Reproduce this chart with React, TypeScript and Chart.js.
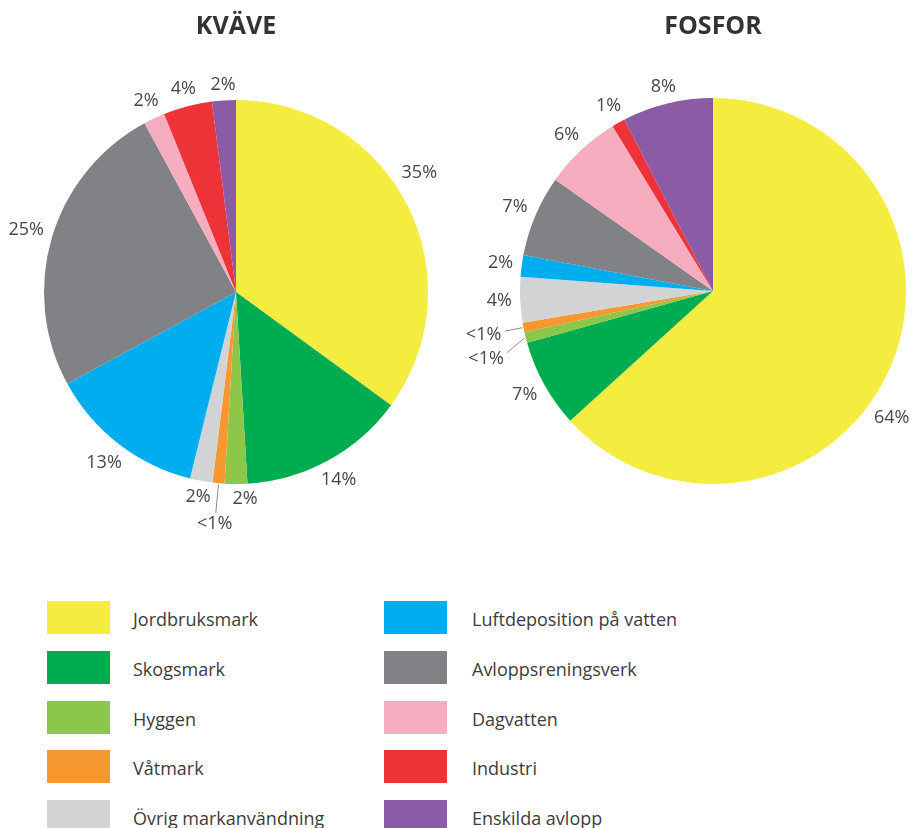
import React, { useEffect, useRef } from 'react';
import { Chart, registerables } from 'chart.js';

Chart.register(...registerables);

const categories = [
  'Jordbruksmark',
  'Skogsmark',
  'Hyggen',
  'Våtmark',
  'Övrig markanvändning',
  'Luftdeposition på vatten',
  'Avloppsreningsverk',
  'Dagvatten',
  'Industri',
  'Enskilda avlopp',
];

const colors = [
  '#F4EC3F',
  '#00AC50',
  '#8DC74A',
  '#F7972F',
  '#D1D3D4',
  '#00AEEF',
  '#808285',
  '#F5ADBF',
  '#EE3338',
  '#8C5BA5',
];

const kvaveValues = [35, 14, 1.9, 1.0, 1.9, 13.2, 25, 1.8, 4.1, 2.0];
const kvaveLabels = ['35%', '14%', '2%', '<1%', '2%', '13%', '25%', '2%', '4%', '2%'];

const fosforValues = [63.2, 7.4, 0.9, 0.8, 3.8, 1.8, 6.8, 6.5, 1.1, 7.6];
const fosforLabels = ['64%', '7%', '<1%', '<1%', '4%', '2%', '7%', '6%', '1%', '8%'];

const sliceLabelPlugin = {
  id: 'sliceLabels',
  afterDatasetsDraw(chart: any, _args: any, opts: any) {
    const ctx = chart.ctx;
    const meta = chart.getDatasetMeta(0);
    const labels: string[] = opts.labels || [];
    const tweaks = opts.tweaks || {};
    const gap = opts.gap ?? 9;
    const leaderGap = opts.leaderGap ?? 3;
    const h = opts.textHeight ?? 12;
    ctx.save();
    ctx.font = opts.font;
    ctx.textAlign = 'center';
    ctx.textBaseline = 'middle';
    meta.data.forEach((arc: any, i: number) => {
      const p = arc.getProps(['x', 'y', 'startAngle', 'endAngle', 'outerRadius'], true);
      const mid = (p.startAngle + p.endAngle) / 2;
      const t = tweaks[i] || {};
      const a = mid + ((t.shift || 0) * Math.PI) / 180;
      const text = labels[i];
      if (!text) return;
      const w = ctx.measureText(text).width;
      const ext = (Math.abs(Math.cos(a)) * w) / 2 + (Math.abs(Math.sin(a)) * h) / 2;
      let base = p.outerRadius;
      let g = gap;
      if (t.leader) {
        const r0 = p.outerRadius + 1;
        const r1 = p.outerRadius + t.leader;
        ctx.beginPath();
        ctx.strokeStyle = opts.lineColor;
        ctx.lineWidth = 1;
        ctx.moveTo(p.x + Math.cos(mid) * r0, p.y + Math.sin(mid) * r0);
        ctx.lineTo(p.x + Math.cos(a) * r1, p.y + Math.sin(a) * r1);
        ctx.stroke();
        base = r1;
        g = leaderGap;
      }
      const d = base + g + ext;
      ctx.fillStyle = opts.color;
      ctx.fillText(text, p.x + Math.cos(a) * d, p.y + Math.sin(a) * d);
    });
    ctx.restore();
  },
};

function makeConfig(
  title: string,
  values: number[],
  labels: string[],
  padding: any,
  titleBottom: number,
  tweaks: any
): any {
  return {
    type: 'pie',
    data: {
      labels: categories,
      datasets: [
        {
          data: values,
          backgroundColor: colors,
          borderWidth: 0,
        },
      ],
    },
    options: {
      responsive: false,
      animation: false,
      layout: { padding },
      plugins: {
        legend: { display: false },
        tooltip: { enabled: false },
        title: {
          display: true,
          text: title,
          color: '#333333',
          font: { family: '"Open Sans", sans-serif', size: 25, weight: 'bold', lineHeight: 1.2 },
          padding: { top: 12, bottom: titleBottom },
        },
        sliceLabels: {
          labels,
          tweaks,
          gap: 8,
          leaderGap: 3,
          textHeight: 13,
          font: '18px "Open Sans", sans-serif',
          color: '#474747',
          lineColor: '#8a8a8a',
        },
      },
    },
    plugins: [sliceLabelPlugin],
  };
}

function PieCanvas(props: {
  left: number;
  width: number;
  height: number;
  config: any;
}) {
  const ref = useRef<HTMLCanvasElement | null>(null);
  useEffect(() => {
    if (!ref.current) return;
    const chart = new Chart(ref.current, props.config);
    return () => chart.destroy();
  }, []);
  return (
    <canvas
      ref={ref}
      width={props.width}
      height={props.height}
      style={{
        position: 'absolute',
        left: props.left,
        top: 0,
        width: props.width,
        height: props.height,
      }}
    />
  );
}

export default function App() {
  const kvaveConfig = makeConfig(
    'KVÄVE',
    kvaveValues,
    kvaveLabels,
    { left: 44, right: 44, top: 0, bottom: 76 },
    58,
    { 0: { shift: -6 }, 2: { shift: -2.5 }, 3: { leader: 30 } }
  );
  const fosforConfig = makeConfig(
    'FOSFOR',
    fosforValues,
    fosforLabels,
    { left: 80, right: 7, top: 0, bottom: 76 },
    56,
    { 0: { shift: 11.5 }, 2: { leader: 22, shift: -2.7 }, 3: { leader: 19 } }
  );

  const col1 = categories.slice(0, 5);
  const col2 = categories.slice(5);

  const legendItem = (name: string, idx: number, row: number, swLeft: number, textLeft: number) => (
    <React.Fragment key={name}>
      <div
        style={{
          position: 'absolute',
          left: swLeft,
          top: 601 + row * 49.75,
          width: 63,
          height: 33,
          background: colors[idx],
        }}
      />
      <div
        style={{
          position: 'absolute',
          left: textLeft,
          top: 603 + row * 49.75,
          height: 33,
          lineHeight: '33px',
          fontFamily: '"Open Sans", sans-serif',
          fontSize: 18,
          color: '#3c3c3c',
          whiteSpace: 'nowrap',
        }}
      >
        {name}
      </div>
    </React.Fragment>
  );

  return (
    <div
      style={{
        position: 'absolute',
        left: 0,
        top: 0,
        width: 913,
        height: 828,
        overflow: 'hidden',
        background: '#ffffff',
      }}
    >
      <PieCanvas left={0} width={472} height={560} config={kvaveConfig} />
      <PieCanvas left={440} width={473} height={560} config={fosforConfig} />
      {col1.map((name, i) => legendItem(name, i, i, 47, 133))}
      {col2.map((name, i) => legendItem(name, i + 5, i, 384, 472))}
    </div>
  );
}
